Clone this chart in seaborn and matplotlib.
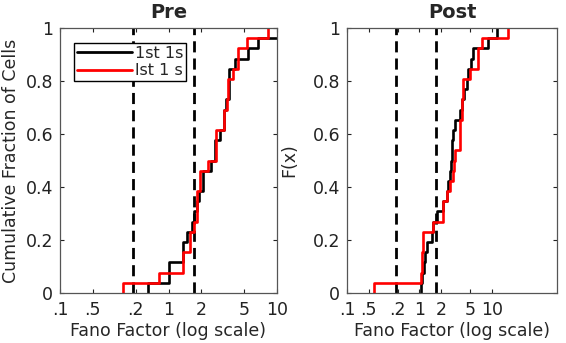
import numpy as np
import pandas as pd
import matplotlib
matplotlib.use("Agg")
import matplotlib.pyplot as plt
from matplotlib.ticker import NullLocator
import seaborn as sns

# Fano factors per cell (26 cells each)
pre_black = [0.65, 1.0, 1.0, 1.35, 1.35, 1.47, 1.63, 1.7, 1.82, 1.93, 2.09, 2.09, 2.44,
             2.68, 2.68, 2.99, 3.22, 3.22, 3.4, 3.63, 3.63, 3.63, 4.1, 5.45, 6.7, 12.0]
pre_red = [0.38, 0.82, 1.35, 1.35, 1.58, 1.58, 1.73, 1.82, 1.82, 1.82, 1.95, 1.95, 2.33,
           2.74, 2.74, 2.74, 3.24, 3.24, 3.44, 3.56, 3.56, 3.96, 4.41, 4.41, 5.25, 8.3]
post_black = [1.04, 1.10, 1.15, 1.19, 1.25, 1.47, 1.55, 1.73, 2.12, 2.37, 2.49, 2.62, 2.7,
              2.78, 2.78, 2.92, 3.13, 3.6, 3.81, 4.15, 4.46, 4.72, 5.21, 5.5, 8.9, 11.6]
post_red = [0.238, 1.06, 1.08, 1.10, 1.13, 1.13, 1.52, 2.12, 2.12, 2.37, 2.62, 2.86, 3.0,
            3.08, 3.6, 3.6, 3.6, 3.81, 3.81, 4.02, 4.02, 4.95, 6.44, 6.44, 7.2, 16.8]

series_names = ["1st 1s", "lst 1 s"]
series_colors = ["black", "red"]
xticks = [0.1, 0.2, 0.5, 1, 2, 5, 10]
xtick_labels = [".1", ".5", ".2", "1", "2", "5", "10"]
yticks = [0, 0.2, 0.4, 0.6, 0.8, 1]
ytick_labels = ["0", "0.2", "0.4", "0.6", "0.8", "1"]
thresholds = [0.47, 1.7]


def ecdf_frame(values, name):
    v = np.sort(values)
    n = len(v)
    x = np.concatenate([[v[0]], v])
    y = np.concatenate([[0.0], np.arange(1, n + 1) / n])
    return pd.DataFrame({"x": x, "y": y, "series": name})


sns.set_style("ticks")
plt.rcParams['font.family'] = ['DejaVu Sans']

fig = plt.figure(figsize=(5.66, 3.43), dpi=100)
ax_pre = fig.add_axes([60 / 566, 50 / 343, 217 / 566, 265 / 343])
ax_post = fig.add_axes([347 / 566, 50 / 343, 210 / 566, 265 / 343])

panels = [
    (ax_pre, pre_black, pre_red, "Pre", "Cumulative Fraction of Cells", 10, 4),
    (ax_post, post_black, post_red, "Post", "F(x)", 10 ** 1.897, 10),
]

for ax, black, red, title, ylabel, xmax, ypad in panels:
    df = pd.concat([ecdf_frame(black, series_names[0]), ecdf_frame(red, series_names[1])])
    for t in thresholds:
        ax.axvline(t, color="black", ls=(0, (4, 2.2)), lw=2.0, zorder=1)
    sns.lineplot(data=df, x="x", y="y", hue="series", palette=series_colors,
                 estimator=None, sort=False, drawstyle="steps-post", lw=1.9,
                 ax=ax, legend=False, zorder=2)
    ax.set_xscale("log")
    ax.set_xlim(0.1, xmax)
    ax.set_ylim(0, 1)
    ax.set_xticks(xticks)
    ax.set_xticklabels(xtick_labels)
    ax.xaxis.set_minor_locator(NullLocator())
    ax.set_yticks(yticks)
    ax.set_yticklabels(ytick_labels)
    ax.tick_params(direction="in", top=True, right=True, length=3, width=0.8,
                   labelsize=12.5, colors="#222222")
    ax.tick_params(axis="x", pad=6)
    ax.tick_params(axis="y", pad=5)
    for s in ax.spines.values():
        s.set_color("#555555")
        s.set_linewidth(0.9)
    ax.set_title(title, fontsize=14, fontweight="bold", pad=7)
    ax.set_xlabel("Fano Factor (log scale)", fontsize=12.5, labelpad=2)
    ax.set_ylabel(ylabel, fontsize=12.5, labelpad=ypad)

handles = [plt.Line2D([], [], color=c, lw=2) for c in series_colors]
ax_pre.legend(handles, series_names, loc="upper left", bbox_to_anchor=(0.065, 0.945),
              borderaxespad=0, fancybox=False, edgecolor="black", framealpha=1,
              fontsize=11.5, handlelength=3.4, handletextpad=0.2, labelspacing=0.15,
              borderpad=0.2)

fig.savefig("out.png", dpi=100)
